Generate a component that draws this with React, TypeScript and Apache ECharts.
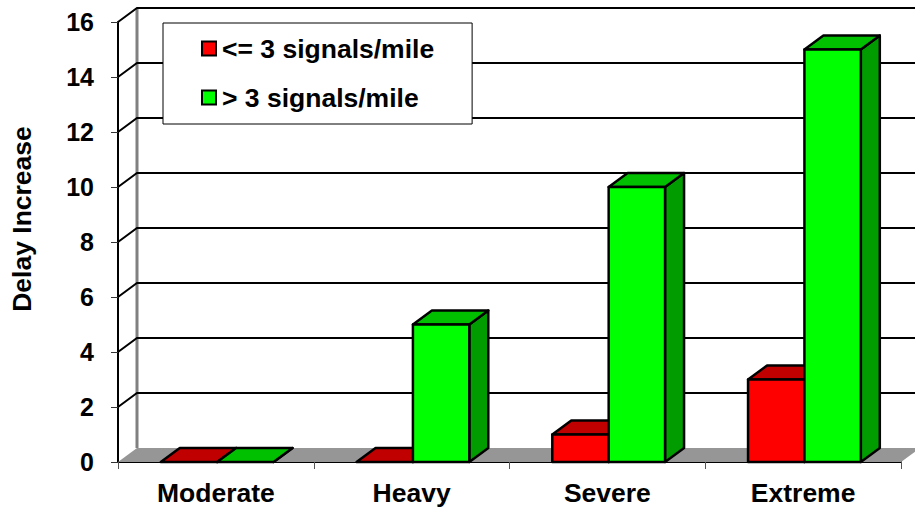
import React, { useEffect, useRef } from "react";
import * as echarts from "echarts";

const categories = ["Moderate", "Heavy", "Severe", "Extreme"];
const lowSignals = [0, 0, 1, 3];
const highSignals = [0, 5, 10, 15];
const gridValues = [0, 2, 4, 6, 8, 10, 12, 14, 16];

const DX = 19;
const DY = 14;
const FONT = "Liberation Sans";
const FONT_SIZE = 26.5;
const TICK_FONT_SIZE = 25;

const gridRender = (_: any, api: any) => {
  const v = api.value(0);
  const band = api.size([1, 0])[0];
  const left = api.coord([0, v])[0] - band / 2;
  const right = api.coord([3, v])[0] + band / 2;
  const y = api.coord([0, v])[1];
  if (v === 0) {
    const top = api.coord([0, 16])[1];
    return {
      type: "group",
      children: [
        {
          type: "polygon",
          shape: { points: [[left, y], [left + DX, y - DY], [right + DX, y - DY], [right, y]] },
          style: { fill: "#969696", stroke: "none" },
        },
        {
          type: "line",
          shape: { x1: left + DX, y1: y - DY, x2: left + DX, y2: top - DY },
          style: { stroke: "#808080", lineWidth: 3 },
        },
      ],
    };
  }
  return {
    type: "polyline",
    shape: { points: [[left, y], [left + DX, y - DY], [right + DX, y - DY]] },
    style: { fill: "none", stroke: "#000", lineWidth: 2 },
  };
};

const barRender = (side: number, front: string, top: string, flank: string) => (_: any, api: any) => {
  const c = api.coord([api.value(0), api.value(1)]);
  const base = api.coord([api.value(0), 0])[1];
  const w = api.size([1, 0])[0] * 0.288;
  const x0 = c[0] + 1.3 + (side < 0 ? -w : 0);
  const x1 = x0 + w;
  const y = c[1];
  const style = (fill: string) => ({ fill, stroke: "#000", lineWidth: 2.5, lineJoin: "round" });
  const children: any[] = [
    {
      type: "polygon",
      shape: { points: [[x1, base], [x1 + DX, base - DY], [x1 + DX, y - DY], [x1, y]] },
      style: style(flank),
    },
    {
      type: "polygon",
      shape: { points: [[x0, y], [x0 + DX, y - DY], [x1 + DX, y - DY], [x1, y]] },
      style: style(top),
    },
  ];
  if (base - y > 0.5) {
    children.push({
      type: "rect",
      shape: { x: x0, y, width: w, height: base - y },
      style: style(front),
    });
  }
  return { type: "group", children };
};

export default function App() {
  const ref = useRef<HTMLDivElement>(null);
  useEffect(() => {
    document.body.style.margin = "0";
    const chart = echarts.init(ref.current!, undefined, { renderer: "svg" });
    chart.setOption({
      animation: false,
      backgroundColor: "#fff",
      grid: { left: 118, right: 14, top: 22, bottom: 51, outerBoundsMode: "none" },
      legend: {
        left: 163,
        top: 23,
        orient: "vertical",
        data: ["<= 3 signals/mile", "> 3 signals/mile"],
        backgroundColor: "#fff",
        borderColor: "#000",
        borderWidth: 1,
        borderRadius: 0,
        padding: [12, 38, 13, 38],
        itemWidth: 14,
        itemHeight: 14,
        itemGap: 22,
        icon: "rect",
        selectedMode: false,
        z: 20,
        textStyle: { fontFamily: FONT, fontWeight: "bold", fontSize: FONT_SIZE, color: "#000", padding: [0, 0, 0, 1] },
      },
      xAxis: {
        type: "category",
        data: categories,
        axisLine: { lineStyle: { color: "#000", width: 2 } },
        axisTick: { show: true, length: 7, lineStyle: { color: "#555", width: 1 } },
        axisLabel: { fontFamily: FONT, fontWeight: "bold", fontSize: FONT_SIZE, color: "#000", margin: 17 },
        splitLine: { show: false },
      },
      yAxis: {
        type: "value",
        min: 0,
        max: 16,
        interval: 2,
        name: "Delay Increase",
        nameLocation: "middle",
        nameRotate: 90,
        nameGap: 83,
        nameTextStyle: { fontFamily: FONT, fontWeight: "bold", fontSize: FONT_SIZE, color: "#000", padding: [0, 0, 0, 46] },
        axisLine: { show: true, lineStyle: { color: "#000", width: 2 } },
        axisTick: { show: true, length: 7, lineStyle: { color: "#333", width: 1 } },
        axisLabel: { fontFamily: FONT, fontWeight: "bold", fontSize: TICK_FONT_SIZE, color: "#000", margin: 24, padding: [2, 0, 0, 0] },
        splitLine: { show: false },
      },
      series: [
        {
          type: "custom",
          silent: true,
          renderItem: gridRender,
          data: gridValues.map((v) => [v]),
          encode: { y: 0 },
          z: 1,
        },
        {
          type: "custom",
          name: "<= 3 signals/mile",
          renderItem: barRender(-1, "#FF0000", "#C00000", "#A00000"),
          itemStyle: { color: "#FF0000", borderColor: "#000", borderWidth: 2 },
          data: categories.map((_, i) => [i, lowSignals[i]]),
          encode: { x: 0, y: 1 },
          z: 3,
        },
        {
          type: "custom",
          name: "> 3 signals/mile",
          renderItem: barRender(1, "#00FF00", "#00C000", "#009C00"),
          itemStyle: { color: "#00FF00", borderColor: "#000", borderWidth: 2 },
          data: categories.map((_, i) => [i, highSignals[i]]),
          encode: { x: 0, y: 1 },
          z: 4,
        },
      ],
    });
    return () => chart.dispose();
  }, []);
  return <div ref={ref} style={{ width: 915, height: 513 }} />;
}
